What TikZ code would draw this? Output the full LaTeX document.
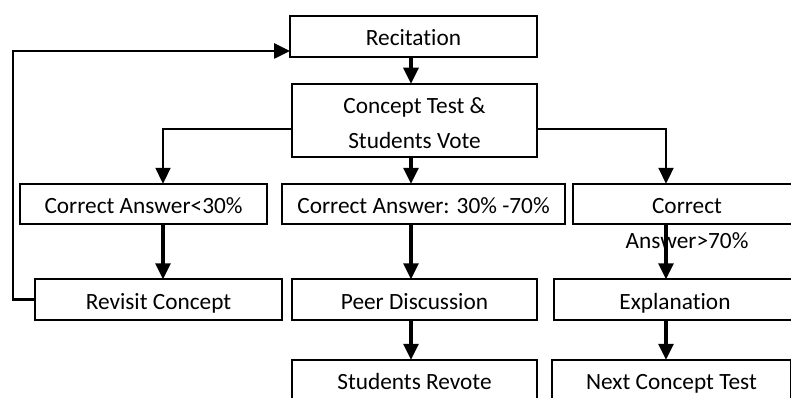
\documentclass[tikz,border=0pt]{standalone}
\usepackage{fontspec}
\setmainfont{Carlito}[Ligatures={NoCommon}]
\usetikzlibrary{arrows.meta,positioning}

\begin{document}
\begin{tikzpicture}[x=1pt,y=-1pt,node distance=27pt and 15pt,>={Triangle[length=16pt,width=15pt]},font=\fontsize{23.3}{35}\selectfont]
\tikzset{box/.style={draw,line width=1.6pt,outer sep=0pt,minimum height=40.5pt,inner sep=2pt,align=center},
         cell/.style={box,text height=21pt,text depth=2pt},
         flow/.style={->,line width=3.2pt},
         branch/.style={->,line width=2.3pt},
         loopline/.style={->,line width=2.6pt}}
\useasboundingbox (0,0) rectangle (791,398);
\clip (0,0) rectangle (791,398);
\node[cell,minimum width=247pt] (rec) at (413.5,36.5) {Recitation};
\node[box,minimum width=245pt,minimum height=73pt,below=27pt of rec,xshift=1pt] (test) {\rule{0pt}{22.6pt}Concept Test \&\\Students Vote};
\node[cell,minimum width=283pt,below=27pt of test,xshift=9pt] (mid) {Correct Answer: 30\% -70\%};
\node[cell,minimum width=247pt,left=15pt of mid] (low) {Correct Answer<30\%};
\node[cell,minimum width=228pt,right=8pt of mid] (high) {Correct};
\node[anchor=base] (highb) at ([yshift=-35pt]high.base) {Answer>70\%};
\node[cell,minimum width=245pt,below=55pt of mid,xshift=-9pt] (peer) {Peer Discussion};
\node[cell,minimum width=247pt,left=10pt of peer] (revisit) {Revisit Concept};
\node[cell,minimum width=242pt,right=17pt of peer] (expl) {Explanation};
\node[cell,minimum width=245pt,below=40pt of peer] (revote) {Students Revote};
\node[cell,minimum width=239pt,right=15pt of revote] (next) {Next Concept Test};
% columns of the arrows
\coordinate (cL) at (163,0);
\coordinate (cM) at (411,0);
\coordinate (cR) at (666,0);
\coordinate (bY) at (0,129);
\coordinate (lpX) at (13,51);
\draw[flow] (cM |- rec.south) -- (cM |- test.north);
\draw[branch] (test.west |- bY) -| (cL |- low.north);
\draw[flow] (cM |- test.south) -- (cM |- mid.north);
\draw[branch] (test.east |- bY) -| (cR |- high.north);
\draw[flow] (cL |- low.south) -- (cL |- revisit.north);
\draw[flow] (cM |- mid.south) -- (cM |- peer.north);
\draw[flow] (cR |- high.south) -- (cR |- expl.north);
\draw[flow] (cM |- peer.south) -- (cM |- revote.north);
\draw[flow] (cR |- expl.south) -- (cR |- next.north);
\draw[loopline] (revisit.west) -| (lpX) -- (lpX -| rec.west);
\end{tikzpicture}
\end{document}
